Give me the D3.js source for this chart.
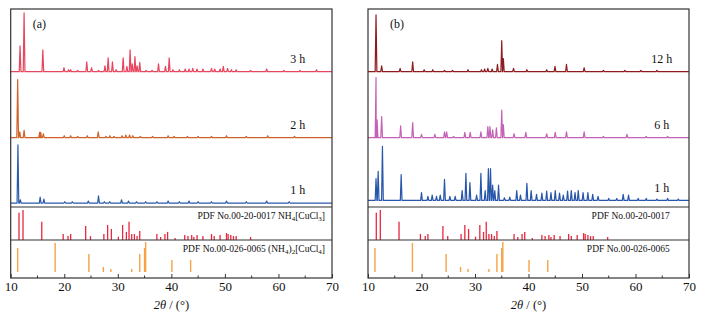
<!DOCTYPE html>
<html>
<head>
<meta charset="utf-8">
<script src="https://cdn.jsdelivr.net/npm/d3@7"></script>
<style>
  body { margin: 0; background: #fff; }
  svg { display: block; font-family: "Liberation Serif", "Times New Roman", serif; }
</style>
</head>
<body>
<svg id="chart"></svg>
<script>
// peak lists: [2theta, intensity (a.u.)]
let peaksA3h = [[11.75,39],[12.5,89],[16.0,33],[19.95,6],[20.8,3],[21.2,3],[22.5,2],[24.2,15],[25.1,6],[26.4,2],
  [27.6,9],[28.2,21],[29.0,15],[29.7,3],[31.0,21],[31.7,8],[32.3,33],[32.7,12],[33.2,23],[33.6,9],[34.1,14],
  [35.3,2],[36.4,2],[37.6,12],[38.9,8],[39.6,21],[40.3,3],[41.5,3],[42.6,4],[43.3,4],[44.0,5],[44.8,4],[45.9,4],
  [47.5,5],[48.1,4],[49.1,4],[49.7,8],[50.5,5],[51.2,3],[52.1,3],[54.8,2],[57.8,4],[61.0,2],[64.0,2],[67.1,3]];
let peaksA2h = [[11.3,88],[11.7,9],[12.5,11],[15.4,8],[15.6,8],[16.1,6],[20.0,3],[21.2,3],[22.5,2],[24.3,3],
  [26.35,9],[27.8,2],[28.5,3],[29.3,2],[30.8,3],[31.5,4],[32.2,4],[32.8,3],[34.2,2],[36.5,2],[39.4,3],[40.5,2],
  [43.0,2],[45.0,2],[47.5,2],[50.3,3],[54.0,2],[58.0,3],[63.0,2]];
let peaksA1h = [[11.35,88],[11.8,5],[15.5,9],[16.2,6],[20.1,2],[21.5,2],[24.5,3],[26.4,11],[27.5,2],[28.5,2],
  [30.7,5],[32.0,3],[33.5,2],[35.2,2],[37.3,2],[39.4,3],[41.5,2],[43.3,3],[45.0,2],[47.5,2],[50.3,3],[54.0,2],
  [57.8,3],[62.0,2]];

let peaksB12h = [[11.5,86],[12.55,9],[16.0,5],[18.35,15],[20.5,3],[22.1,3],[24.3,2],[25.8,2],[28.7,3],[31.2,3],
  [31.8,4],[32.4,5],[33.2,4],[34.2,11],[35.0,47],[35.3,20],[37.2,5],[39.7,3],[43.4,3],[44.95,8],[47.1,11],
  [50.4,6],[54.0,2],[58.0,2],[61.0,2],[64.0,2]];
let peaksB6h = [[11.5,91],[11.7,27],[12.55,32],[16.1,18],[18.35,23],[20.0,5],[22.5,5],[24.3,9],[24.7,9],[26.0,2],
  [28.1,8],[29.1,8],[31.1,9],[32.4,17],[32.8,17],[33.3,12],[34.0,15],[35.0,42],[35.3,20],[37.3,6],[39.5,8],
  [43.4,6],[45.0,8],[47.1,9],[50.4,9],[54.0,2],[58.4,5],[62.0,2],[66.0,2]];
let peaksB1h = [[11.5,33],[11.9,44],[12.7,82],[16.2,39],[20.0,12],[21.2,6],[22.0,8],[22.8,6],[23.5,8],[24.3,32],
  [25.3,6],[26.3,6],[27.6,15],[28.3,41],[29.05,27],[30.3,8],[31.1,41],[31.9,15],[32.5,48],[32.9,48],[33.3,23],
  [33.7,15],[34.4,23],[35.5,4],[36.5,5],[37.8,15],[38.5,8],[39.7,26],[40.5,15],[41.5,9],[42.5,11],[43.4,14],
  [44.2,12],[45.0,15],[45.8,11],[46.5,8],[47.3,14],[48.0,15],[48.7,12],[49.3,15],[50.2,12],[51.1,12],[52.0,9],
  [53.0,6],[55.0,3],[56.5,3],[57.7,9],[58.7,8],[60.5,3],[62.0,3],[64.0,2],[66.0,3],[68.0,2]];

// reference cards: [2theta, relative intensity %]
let sticks20_0017 = [[11.55,91],[12.3,100],[15.8,61],[19.8,20],[20.7,13],[21.2,20],[24.0,47],[24.9,13],[27.4,20],
  [28.1,50],[28.8,37],[30.1,11],[30.9,50],[31.6,27],[32.1,61],[32.6,20],[33.1,20],[33.6,13],[34.1,30],[37.3,20],
  [38.0,10],[38.8,20],[39.3,27],[40.7,7],[42.5,17],[43.1,13],[43.8,17],[44.2,10],[44.8,17],[45.9,13],[47.5,20],
  [48.0,13],[49.1,17],[50.3,23],[50.6,20],[51.1,17],[51.6,13],[52.1,13],[54.8,10]];
let sticks026_0065 = [[11.3,80],[18.3,97],[24.6,60],[27.3,17],[28.7,10],[32.6,10],[34.1,60],[35.0,80],[35.2,100],
  [40.1,40],[43.6,40]];

let offsetsA = [205, 105, 6];
let offsetsB = [205, 105, 10];
let labelsA = ["3 h", "2 h", "1 h"];
let labelsB = ["12 h", "6 h", "1 h"];
let coloursA = ["#e8455e", "#d0622a", "#2a5aaa"];
let coloursB = ["#8e1b1f", "#c462b6", "#2856aa"];

let majorTicks = [10, 20, 30, 40, 50, 60, 70];
let minorTicks = [15, 25, 35, 45, 55, 65];

function getConfig() {
  let width = 705, height = 317;
  let top = 9, split1 = 207, split2 = 240, bottom = 278;
  let container = d3.select("#chart").attr("width", width).attr("height", height);
  return { width, height, top, split1, split2, bottom, container };
}

function getScales(config, left, right) {
  let { top, split1, split2, bottom } = config;
  let xScale = d3.scaleLinear().domain([10, 70]).range([left, right]);
  let yPattern = d3.scaleLinear().domain([0, 300]).range([split1, top]);
  let yCard1 = d3.scaleLinear().domain([0, 100]).range([split2, split2 - 30]);
  let yCard2 = d3.scaleLinear().domain([0, 100]).range([bottom - 6, bottom - 36]);
  return { xScale, yPattern, yCard1, yCard2 };
}

// each peak becomes a narrow spike on a flat baseline
function spikePoints(peaks, offset) {
  let pts = [[10, offset], [70, offset]];
  peaks.forEach(p => {
    pts.push([p[0] - 0.16, offset], [p[0], offset + p[1]], [p[0] + 0.16, offset]);
  });
  return pts.sort((a, b) => a[0] - b[0]);
}

// card label with sub/back parts for the formula
function cardLabel(g, x, y, parts) {
  let t = g.append("text").attr("x", x).attr("y", y)
    .attr("text-anchor", "end").attr("font-size", 9.5).attr("fill", "#111");
  parts.forEach(part => {
    t.append("tspan")
      .attr("font-size", part[1] === "sub" ? 7 : 9.5)
      .attr("dy", part[1] === "sub" ? 2.5 : (part[1] === "back" ? -2.5 : 0))
      .text(part[0]);
  });
}

function drawPanel(config, scales, opts) {
  let { container, top, split1, split2, bottom } = config;
  let { xScale, yPattern, yCard1, yCard2 } = scales;
  let [x0, x1] = xScale.range();
  let g = container.append("g");

  let line = d3.line().x(d => xScale(d[0])).y(d => yPattern(d[1]));
  opts.patterns.forEach((peaks, i) => {
    g.append("path")
      .datum(spikePoints(peaks, opts.offsets[i]))
      .attr("d", line)
      .attr("fill", "none")
      .attr("stroke", opts.colours[i])
      .attr("stroke-width", 1.2)
      .attr("stroke-linejoin", "round");
    g.append("text")
      .attr("x", xScale(opts.labelX))
      .attr("y", yPattern(opts.offsets[i] + 13))
      .attr("text-anchor", "middle")
      .attr("font-size", 12)
      .attr("fill", "#111")
      .text(opts.labels[i]);
  });

  g.selectAll(".s1").data(sticks20_0017).enter().append("line")
    .attr("x1", d => xScale(d[0])).attr("x2", d => xScale(d[0]))
    .attr("y1", yCard1(0)).attr("y2", d => yCard1(d[1]))
    .attr("stroke", "#e8283f").attr("stroke-width", 1.3);

  g.selectAll(".s2").data(sticks026_0065).enter().append("line")
    .attr("x1", d => xScale(d[0])).attr("x2", d => xScale(d[0]))
    .attr("y1", yCard2(0)).attr("y2", d => yCard2(d[1]))
    .attr("stroke", "#f5a345").attr("stroke-width", 1.4);

  // frame and separators
  g.append("rect").attr("x", x0).attr("y", top).attr("width", x1 - x0).attr("height", bottom - top)
    .attr("fill", "none").attr("stroke", "#333").attr("stroke-width", 1.2);
  [split1, split2].forEach(y => {
    g.append("line").attr("x1", x0).attr("x2", x1).attr("y1", y).attr("y2", y)
      .attr("stroke", "#333").attr("stroke-width", 1.2);
  });

  let axis = d3.axisBottom(xScale).tickValues(majorTicks).tickSizeInner(-4).tickSizeOuter(0).tickPadding(4);
  let gX = g.append("g").attr("transform", `translate(0,${bottom})`).call(axis);
  gX.select(".domain").remove();
  gX.selectAll("line").attr("stroke", "#333");
  gX.selectAll("text").attr("font-size", 13).attr("font-family", "Liberation Serif, serif").attr("fill", "#111");
  g.selectAll(".minor").data(minorTicks).enter().append("line")
    .attr("x1", d => xScale(d)).attr("x2", d => xScale(d))
    .attr("y1", bottom).attr("y2", bottom - 2.5).attr("stroke", "#333");

  let axTitle = g.append("text").attr("x", (x0 + x1) / 2).attr("y", 309)
    .attr("text-anchor", "middle").attr("font-size", 12.5).attr("fill", "#111");
  axTitle.append("tspan").attr("font-style", "italic").text("2θ");
  axTitle.append("tspan").text(" / (°)");

  g.append("text").attr("x", x0 + 22).attr("y", 28).attr("font-size", 12).attr("fill", "#111").text(opts.tag);

  cardLabel(g, xScale(opts.cardX), 218.5, opts.card1);
  cardLabel(g, xScale(opts.cardX), 251.5, opts.card2);
}

function showData() {
  let config = getConfig();
  let scalesA = getScales(config, 10.7, 332);
  let scalesB = getScales(config, 368, 689);
  drawPanel(config, scalesA, {
    patterns: [peaksA3h, peaksA2h, peaksA1h], offsets: offsetsA, colours: coloursA, labels: labelsA,
    labelX: 63.6, tag: "(a)", cardX: 68.7,
    card1: [["PDF No.00-20-0017 NH"], ["4", "sub"], ["[CuCl", "back"], ["3", "sub"], ["]", "back"]],
    card2: [["PDF No.00-026-0065 (NH"], ["4", "sub"], [")", "back"], ["2", "sub"], ["[CuCl", "back"], ["4", "sub"], ["]", "back"]]
  });
  drawPanel(config, scalesB, {
    patterns: [peaksB12h, peaksB6h, peaksB1h], offsets: offsetsB, colours: coloursB, labels: labelsB,
    labelX: 64.9, tag: "(b)", cardX: 66.4,
    card1: [["PDF No.00-20-0017"]],
    card2: [["PDF No.00-026-0065"]]
  });
}

showData();
</script>
</body>
</html>
